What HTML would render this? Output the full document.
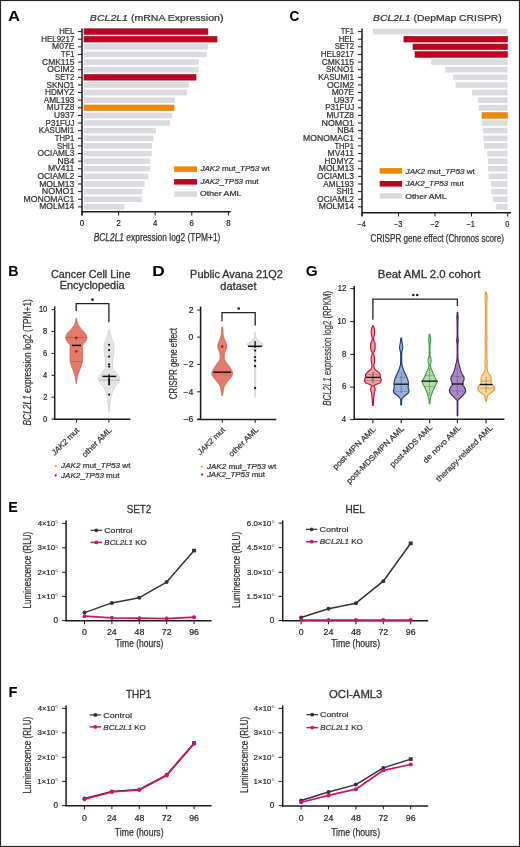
<!DOCTYPE html>
<html><head><meta charset="utf-8"><style>
html,body{margin:0;padding:0;background:#fff;width:520px;height:847px;overflow:hidden}
svg{display:block;will-change:transform}
text{font-family:"Liberation Sans", sans-serif}
</style></head><body>
<svg width="520" height="847" viewBox="0 0 520 847" font-family='"Liberation Sans", sans-serif'>
<rect x="0" y="0" width="520" height="847" fill="#fff"/>
<text x="7.98" y="20.9" font-size="15" font-weight="bold" fill="#000" textLength="12.07" lengthAdjust="spacingAndGlyphs">A</text>
<text x="89.88" y="20.9" font-size="9.3" fill="#333" stroke="#333" stroke-width="0.22" textLength="133.57" lengthAdjust="spacingAndGlyphs"><tspan font-style="italic">BCL2L1</tspan> (mRNA Expression)</text>
<rect x="84" y="28.8" width="123.9" height="5.6" fill="#C0001F" stroke="#9A0A26" stroke-width="0.6"/>
<line x1="78" y1="31.6" x2="82" y2="31.6" stroke="#1c1c1c" stroke-width="1"/>
<text x="59.13" y="34.2" font-size="8.2" fill="#333" stroke="#333" stroke-width="0.22" textLength="15.11" lengthAdjust="spacingAndGlyphs">HEL</text>
<rect x="84" y="36.42" width="133" height="5.6" fill="#C0001F" stroke="#9A0A26" stroke-width="0.6"/>
<line x1="78" y1="39.22" x2="82" y2="39.22" stroke="#1c1c1c" stroke-width="1"/>
<text x="41.26" y="41.82" font-size="8.2" fill="#333" stroke="#333" stroke-width="0.22" textLength="33.13" lengthAdjust="spacingAndGlyphs">HEL9217</text>
<rect x="84" y="44.04" width="123.9" height="5.6" fill="#DCDADE"/>
<line x1="78" y1="46.84" x2="82" y2="46.84" stroke="#1c1c1c" stroke-width="1"/>
<text x="52.07" y="49.44" font-size="8.2" fill="#333" stroke="#333" stroke-width="0.22" textLength="22.29" lengthAdjust="spacingAndGlyphs">M07E</text>
<rect x="84" y="51.66" width="122.7" height="5.6" fill="#DCDADE"/>
<line x1="78" y1="54.46" x2="82" y2="54.46" stroke="#1c1c1c" stroke-width="1"/>
<text x="61.1" y="57.06" font-size="8.2" fill="#333" stroke="#333" stroke-width="0.22" textLength="13.26" lengthAdjust="spacingAndGlyphs">TF1</text>
<rect x="84" y="59.28" width="114.75" height="5.6" fill="#DCDADE"/>
<line x1="78" y1="62.08" x2="82" y2="62.08" stroke="#1c1c1c" stroke-width="1"/>
<text x="42.08" y="64.68" font-size="8.2" fill="#333" stroke="#333" stroke-width="0.22" textLength="32.27" lengthAdjust="spacingAndGlyphs">CMK115</text>
<rect x="84" y="66.9" width="114.75" height="5.6" fill="#DCDADE"/>
<line x1="78" y1="69.7" x2="82" y2="69.7" stroke="#1c1c1c" stroke-width="1"/>
<text x="47.37" y="72.3" font-size="8.2" fill="#333" stroke="#333" stroke-width="0.22" textLength="27.08" lengthAdjust="spacingAndGlyphs">OCIM2</text>
<rect x="84" y="74.52" width="112" height="5.6" fill="#C0001F" stroke="#9A0A26" stroke-width="0.6"/>
<line x1="78" y1="77.32" x2="82" y2="77.32" stroke="#1c1c1c" stroke-width="1"/>
<text x="55.05" y="79.92" font-size="8.2" fill="#333" stroke="#333" stroke-width="0.22" textLength="19.34" lengthAdjust="spacingAndGlyphs">SET2</text>
<rect x="84" y="82.14" width="104.8" height="5.6" fill="#DCDADE"/>
<line x1="78" y1="84.94" x2="82" y2="84.94" stroke="#1c1c1c" stroke-width="1"/>
<text x="46.53" y="87.54" font-size="8.2" fill="#333" stroke="#333" stroke-width="0.22" textLength="27.84" lengthAdjust="spacingAndGlyphs">SKNO1</text>
<rect x="84" y="89.76" width="102.9" height="5.6" fill="#DCDADE"/>
<line x1="78" y1="92.56" x2="82" y2="92.56" stroke="#1c1c1c" stroke-width="1"/>
<text x="44.94" y="95.16" font-size="8.2" fill="#333" stroke="#333" stroke-width="0.22" textLength="29.31" lengthAdjust="spacingAndGlyphs">HDMYZ</text>
<rect x="84" y="97.38" width="90.9" height="5.6" fill="#DCDADE"/>
<line x1="78" y1="100.18" x2="82" y2="100.18" stroke="#1c1c1c" stroke-width="1"/>
<text x="43.75" y="102.78" font-size="8.2" fill="#333" stroke="#333" stroke-width="0.22" textLength="30.58" lengthAdjust="spacingAndGlyphs">AML193</text>
<rect x="84" y="105" width="90" height="5.6" fill="#EE8A00" stroke="#D2861A" stroke-width="0.6"/>
<line x1="78" y1="107.8" x2="82" y2="107.8" stroke="#1c1c1c" stroke-width="1"/>
<text x="46.84" y="110.4" font-size="8.2" fill="#333" stroke="#333" stroke-width="0.22" textLength="27.52" lengthAdjust="spacingAndGlyphs">MUTZ8</text>
<rect x="84" y="112.62" width="88.2" height="5.6" fill="#DCDADE"/>
<line x1="78" y1="115.42" x2="82" y2="115.42" stroke="#1c1c1c" stroke-width="1"/>
<text x="54.11" y="118.02" font-size="8.2" fill="#333" stroke="#333" stroke-width="0.22" textLength="20.32" lengthAdjust="spacingAndGlyphs">U937</text>
<rect x="84" y="120.24" width="86" height="5.6" fill="#DCDADE"/>
<line x1="78" y1="123.04" x2="82" y2="123.04" stroke="#1c1c1c" stroke-width="1"/>
<text x="45.61" y="125.64" font-size="8.2" fill="#333" stroke="#333" stroke-width="0.22" textLength="29.01" lengthAdjust="spacingAndGlyphs">P31FUJ</text>
<rect x="84" y="127.86" width="71.9" height="5.6" fill="#DCDADE"/>
<line x1="78" y1="130.66" x2="82" y2="130.66" stroke="#1c1c1c" stroke-width="1"/>
<text x="38.75" y="133.26" font-size="8.2" fill="#333" stroke="#333" stroke-width="0.22" textLength="35.62" lengthAdjust="spacingAndGlyphs">KASUMI1</text>
<rect x="84" y="135.48" width="69.5" height="5.6" fill="#DCDADE"/>
<line x1="78" y1="138.28" x2="82" y2="138.28" stroke="#1c1c1c" stroke-width="1"/>
<text x="54.85" y="140.88" font-size="8.2" fill="#333" stroke="#333" stroke-width="0.22" textLength="19.51" lengthAdjust="spacingAndGlyphs">THP1</text>
<rect x="84" y="143.1" width="68" height="5.6" fill="#DCDADE"/>
<line x1="78" y1="145.9" x2="82" y2="145.9" stroke="#1c1c1c" stroke-width="1"/>
<text x="56.9" y="148.5" font-size="8.2" fill="#333" stroke="#333" stroke-width="0.22" textLength="17.48" lengthAdjust="spacingAndGlyphs">SHI1</text>
<rect x="84" y="150.72" width="67.7" height="5.6" fill="#DCDADE"/>
<line x1="78" y1="153.52" x2="82" y2="153.52" stroke="#1c1c1c" stroke-width="1"/>
<text x="37.52" y="156.12" font-size="8.2" fill="#333" stroke="#333" stroke-width="0.22" textLength="36.81" lengthAdjust="spacingAndGlyphs">OCIAML3</text>
<rect x="84" y="158.34" width="66.1" height="5.6" fill="#DCDADE"/>
<line x1="78" y1="161.14" x2="82" y2="161.14" stroke="#1c1c1c" stroke-width="1"/>
<text x="57.62" y="163.74" font-size="8.2" fill="#333" stroke="#333" stroke-width="0.22" textLength="16.64" lengthAdjust="spacingAndGlyphs">NB4</text>
<rect x="84" y="165.96" width="65.9" height="5.6" fill="#DCDADE"/>
<line x1="78" y1="168.76" x2="82" y2="168.76" stroke="#1c1c1c" stroke-width="1"/>
<text x="47.92" y="171.36" font-size="8.2" fill="#333" stroke="#333" stroke-width="0.22" textLength="26.46" lengthAdjust="spacingAndGlyphs">MV411</text>
<rect x="84" y="173.58" width="64.3" height="5.6" fill="#DCDADE"/>
<line x1="78" y1="176.38" x2="82" y2="176.38" stroke="#1c1c1c" stroke-width="1"/>
<text x="37.52" y="178.98" font-size="8.2" fill="#333" stroke="#333" stroke-width="0.22" textLength="36.9" lengthAdjust="spacingAndGlyphs">OCIAML2</text>
<rect x="84" y="181.2" width="60.6" height="5.6" fill="#DCDADE"/>
<line x1="78" y1="184" x2="82" y2="184" stroke="#1c1c1c" stroke-width="1"/>
<text x="39.22" y="186.6" font-size="8.2" fill="#333" stroke="#333" stroke-width="0.22" textLength="35.15" lengthAdjust="spacingAndGlyphs">MOLM13</text>
<rect x="84" y="188.82" width="58.2" height="5.6" fill="#DCDADE"/>
<line x1="78" y1="191.62" x2="82" y2="191.62" stroke="#1c1c1c" stroke-width="1"/>
<text x="41.89" y="194.22" font-size="8.2" fill="#333" stroke="#333" stroke-width="0.22" textLength="32.53" lengthAdjust="spacingAndGlyphs">NOMO1</text>
<rect x="84" y="196.44" width="57.7" height="5.6" fill="#DCDADE"/>
<line x1="78" y1="199.24" x2="82" y2="199.24" stroke="#1c1c1c" stroke-width="1"/>
<text x="23.51" y="201.84" font-size="8.2" fill="#333" stroke="#333" stroke-width="0.22" textLength="50.87" lengthAdjust="spacingAndGlyphs">MONOMAC1</text>
<rect x="84" y="204.06" width="40.4" height="5.6" fill="#DCDADE"/>
<line x1="78" y1="206.86" x2="82" y2="206.86" stroke="#1c1c1c" stroke-width="1"/>
<text x="39.22" y="209.46" font-size="8.2" fill="#333" stroke="#333" stroke-width="0.22" textLength="35.06" lengthAdjust="spacingAndGlyphs">MOLM14</text>
<line x1="82" y1="28.5" x2="82" y2="215.5" stroke="#1c1c1c" stroke-width="1.5"/>
<line x1="81.4" y1="211.7" x2="230.8" y2="211.7" stroke="#1c1c1c" stroke-width="1.5"/>
<line x1="82" y1="211.7" x2="82" y2="215.5" stroke="#1c1c1c" stroke-width="1"/>
<text x="79.82" y="226.3" font-size="8.2" fill="#262626" stroke="#262626" stroke-width="0.22" textLength="4.33" lengthAdjust="spacingAndGlyphs">0</text>
<line x1="118.6" y1="211.7" x2="118.6" y2="215.5" stroke="#1c1c1c" stroke-width="1"/>
<text x="116.44" y="226.3" font-size="8.2" fill="#262626" stroke="#262626" stroke-width="0.22" textLength="4.33" lengthAdjust="spacingAndGlyphs">2</text>
<line x1="155.2" y1="211.7" x2="155.2" y2="215.5" stroke="#1c1c1c" stroke-width="1"/>
<text x="153.08" y="226.3" font-size="8.2" fill="#262626" stroke="#262626" stroke-width="0.22" textLength="4.33" lengthAdjust="spacingAndGlyphs">4</text>
<line x1="191.8" y1="211.7" x2="191.8" y2="215.5" stroke="#1c1c1c" stroke-width="1"/>
<text x="189.6" y="226.3" font-size="8.2" fill="#262626" stroke="#262626" stroke-width="0.22" textLength="4.33" lengthAdjust="spacingAndGlyphs">6</text>
<line x1="228.4" y1="211.7" x2="228.4" y2="215.5" stroke="#1c1c1c" stroke-width="1"/>
<text x="226.22" y="226.3" font-size="8.2" fill="#262626" stroke="#262626" stroke-width="0.22" textLength="4.33" lengthAdjust="spacingAndGlyphs">8</text>
<text x="93.65" y="241.1" font-size="10.2" fill="#333" stroke="#333" stroke-width="0.25" textLength="126.77" lengthAdjust="spacingAndGlyphs"><tspan font-style="italic">BCL2L1</tspan> expression log2 (TPM+1)</text>
<rect x="174.1" y="166.4" width="22.9" height="5.5" fill="#EE8A00"/>
<text x="200.4" y="171.3" font-size="7.4" fill="#333" stroke="#333" stroke-width="0.22" textLength="69.28" lengthAdjust="spacingAndGlyphs"><tspan font-style="italic">JAK2</tspan> mut_<tspan font-style="italic">TP53</tspan> wt</text>
<rect x="174.1" y="179.1" width="22.9" height="5.5" fill="#C0001F"/>
<text x="200.4" y="183.8" font-size="7.4" fill="#333" stroke="#333" stroke-width="0.22" textLength="58.15" lengthAdjust="spacingAndGlyphs"><tspan font-style="italic">JAK2</tspan>_<tspan font-style="italic">TP53</tspan> mut</text>
<rect x="174.1" y="191.4" width="22.9" height="5.5" fill="#DCDADE"/>
<text x="200.01" y="196.3" font-size="7.4" fill="#333" stroke="#333" stroke-width="0.22" textLength="41.45" lengthAdjust="spacingAndGlyphs">Other AML</text>
<text x="289.56" y="20.7" font-size="15" font-weight="bold" fill="#000" textLength="9.81" lengthAdjust="spacingAndGlyphs">C</text>
<text x="373.09" y="21.2" font-size="9.3" fill="#333" stroke="#333" stroke-width="0.22" textLength="128.68" lengthAdjust="spacingAndGlyphs"><tspan font-style="italic">BCL2L1</tspan> (DepMap CRISPR)</text>
<rect x="372.8" y="28.8" width="134.7" height="5.6" fill="#DCDADE"/>
<line x1="358" y1="31.6" x2="362" y2="31.6" stroke="#1c1c1c" stroke-width="1"/>
<text x="340.7" y="34.2" font-size="8.2" fill="#333" stroke="#333" stroke-width="0.22" textLength="13.26" lengthAdjust="spacingAndGlyphs">TF1</text>
<rect x="403.9" y="36.42" width="103.6" height="5.6" fill="#C0001F" stroke="#9A0A26" stroke-width="0.6"/>
<line x1="358" y1="39.22" x2="362" y2="39.22" stroke="#1c1c1c" stroke-width="1"/>
<text x="338.73" y="41.82" font-size="8.2" fill="#333" stroke="#333" stroke-width="0.22" textLength="15.11" lengthAdjust="spacingAndGlyphs">HEL</text>
<rect x="413" y="44.04" width="94.5" height="5.6" fill="#C0001F" stroke="#9A0A26" stroke-width="0.6"/>
<line x1="358" y1="46.84" x2="362" y2="46.84" stroke="#1c1c1c" stroke-width="1"/>
<text x="334.65" y="49.44" font-size="8.2" fill="#333" stroke="#333" stroke-width="0.22" textLength="19.34" lengthAdjust="spacingAndGlyphs">SET2</text>
<rect x="415" y="51.66" width="92.5" height="5.6" fill="#C0001F" stroke="#9A0A26" stroke-width="0.6"/>
<line x1="358" y1="54.46" x2="362" y2="54.46" stroke="#1c1c1c" stroke-width="1"/>
<text x="320.86" y="57.06" font-size="8.2" fill="#333" stroke="#333" stroke-width="0.22" textLength="33.13" lengthAdjust="spacingAndGlyphs">HEL9217</text>
<rect x="431.2" y="59.28" width="76.3" height="5.6" fill="#DCDADE"/>
<line x1="358" y1="62.08" x2="362" y2="62.08" stroke="#1c1c1c" stroke-width="1"/>
<text x="321.68" y="64.68" font-size="8.2" fill="#333" stroke="#333" stroke-width="0.22" textLength="32.27" lengthAdjust="spacingAndGlyphs">CMK115</text>
<rect x="445.5" y="66.9" width="62" height="5.6" fill="#DCDADE"/>
<line x1="358" y1="69.7" x2="362" y2="69.7" stroke="#1c1c1c" stroke-width="1"/>
<text x="326.13" y="72.3" font-size="8.2" fill="#333" stroke="#333" stroke-width="0.22" textLength="27.84" lengthAdjust="spacingAndGlyphs">SKNO1</text>
<rect x="453" y="74.52" width="54.5" height="5.6" fill="#DCDADE"/>
<line x1="358" y1="77.32" x2="362" y2="77.32" stroke="#1c1c1c" stroke-width="1"/>
<text x="318.35" y="79.92" font-size="8.2" fill="#333" stroke="#333" stroke-width="0.22" textLength="35.62" lengthAdjust="spacingAndGlyphs">KASUMI1</text>
<rect x="455.5" y="82.14" width="52" height="5.6" fill="#DCDADE"/>
<line x1="358" y1="84.94" x2="362" y2="84.94" stroke="#1c1c1c" stroke-width="1"/>
<text x="326.97" y="87.54" font-size="8.2" fill="#333" stroke="#333" stroke-width="0.22" textLength="27.08" lengthAdjust="spacingAndGlyphs">OCIM2</text>
<rect x="472" y="89.76" width="35.5" height="5.6" fill="#DCDADE"/>
<line x1="358" y1="92.56" x2="362" y2="92.56" stroke="#1c1c1c" stroke-width="1"/>
<text x="331.67" y="95.16" font-size="8.2" fill="#333" stroke="#333" stroke-width="0.22" textLength="22.29" lengthAdjust="spacingAndGlyphs">M07E</text>
<rect x="477.7" y="97.38" width="29.8" height="5.6" fill="#DCDADE"/>
<line x1="358" y1="100.18" x2="362" y2="100.18" stroke="#1c1c1c" stroke-width="1"/>
<text x="333.71" y="102.78" font-size="8.2" fill="#333" stroke="#333" stroke-width="0.22" textLength="20.32" lengthAdjust="spacingAndGlyphs">U937</text>
<rect x="478.8" y="105" width="28.7" height="5.6" fill="#DCDADE"/>
<line x1="358" y1="107.8" x2="362" y2="107.8" stroke="#1c1c1c" stroke-width="1"/>
<text x="325.21" y="110.4" font-size="8.2" fill="#333" stroke="#333" stroke-width="0.22" textLength="29.01" lengthAdjust="spacingAndGlyphs">P31FUJ</text>
<rect x="482" y="112.62" width="25.5" height="5.6" fill="#EE8A00" stroke="#D2861A" stroke-width="0.6"/>
<line x1="358" y1="115.42" x2="362" y2="115.42" stroke="#1c1c1c" stroke-width="1"/>
<text x="326.44" y="118.02" font-size="8.2" fill="#333" stroke="#333" stroke-width="0.22" textLength="27.52" lengthAdjust="spacingAndGlyphs">MUTZ8</text>
<rect x="482.3" y="120.24" width="25.2" height="5.6" fill="#DCDADE"/>
<line x1="358" y1="123.04" x2="362" y2="123.04" stroke="#1c1c1c" stroke-width="1"/>
<text x="321.49" y="125.64" font-size="8.2" fill="#333" stroke="#333" stroke-width="0.22" textLength="32.53" lengthAdjust="spacingAndGlyphs">NOMO1</text>
<rect x="483.1" y="127.86" width="24.4" height="5.6" fill="#DCDADE"/>
<line x1="358" y1="130.66" x2="362" y2="130.66" stroke="#1c1c1c" stroke-width="1"/>
<text x="337.22" y="133.26" font-size="8.2" fill="#333" stroke="#333" stroke-width="0.22" textLength="16.64" lengthAdjust="spacingAndGlyphs">NB4</text>
<rect x="483.4" y="135.48" width="24.1" height="5.6" fill="#DCDADE"/>
<line x1="358" y1="138.28" x2="362" y2="138.28" stroke="#1c1c1c" stroke-width="1"/>
<text x="303.11" y="140.88" font-size="8.2" fill="#333" stroke="#333" stroke-width="0.22" textLength="50.87" lengthAdjust="spacingAndGlyphs">MONOMAC1</text>
<rect x="484" y="143.1" width="23.5" height="5.6" fill="#DCDADE"/>
<line x1="358" y1="145.9" x2="362" y2="145.9" stroke="#1c1c1c" stroke-width="1"/>
<text x="334.45" y="148.5" font-size="8.2" fill="#333" stroke="#333" stroke-width="0.22" textLength="19.51" lengthAdjust="spacingAndGlyphs">THP1</text>
<rect x="487.4" y="150.72" width="20.1" height="5.6" fill="#DCDADE"/>
<line x1="358" y1="153.52" x2="362" y2="153.52" stroke="#1c1c1c" stroke-width="1"/>
<text x="327.52" y="156.12" font-size="8.2" fill="#333" stroke="#333" stroke-width="0.22" textLength="26.46" lengthAdjust="spacingAndGlyphs">MV411</text>
<rect x="488" y="158.34" width="19.5" height="5.6" fill="#DCDADE"/>
<line x1="358" y1="161.14" x2="362" y2="161.14" stroke="#1c1c1c" stroke-width="1"/>
<text x="324.54" y="163.74" font-size="8.2" fill="#333" stroke="#333" stroke-width="0.22" textLength="29.31" lengthAdjust="spacingAndGlyphs">HDMYZ</text>
<rect x="488" y="165.96" width="19.5" height="5.6" fill="#DCDADE"/>
<line x1="358" y1="168.76" x2="362" y2="168.76" stroke="#1c1c1c" stroke-width="1"/>
<text x="318.82" y="171.36" font-size="8.2" fill="#333" stroke="#333" stroke-width="0.22" textLength="35.15" lengthAdjust="spacingAndGlyphs">MOLM13</text>
<rect x="488.5" y="173.58" width="19" height="5.6" fill="#DCDADE"/>
<line x1="358" y1="176.38" x2="362" y2="176.38" stroke="#1c1c1c" stroke-width="1"/>
<text x="317.12" y="178.98" font-size="8.2" fill="#333" stroke="#333" stroke-width="0.22" textLength="36.81" lengthAdjust="spacingAndGlyphs">OCIAML3</text>
<rect x="490.8" y="181.2" width="16.7" height="5.6" fill="#DCDADE"/>
<line x1="358" y1="184" x2="362" y2="184" stroke="#1c1c1c" stroke-width="1"/>
<text x="323.35" y="186.6" font-size="8.2" fill="#333" stroke="#333" stroke-width="0.22" textLength="30.58" lengthAdjust="spacingAndGlyphs">AML193</text>
<rect x="491.3" y="188.82" width="16.2" height="5.6" fill="#DCDADE"/>
<line x1="358" y1="191.62" x2="362" y2="191.62" stroke="#1c1c1c" stroke-width="1"/>
<text x="336.5" y="194.22" font-size="8.2" fill="#333" stroke="#333" stroke-width="0.22" textLength="17.48" lengthAdjust="spacingAndGlyphs">SHI1</text>
<rect x="492.7" y="196.44" width="14.8" height="5.6" fill="#DCDADE"/>
<line x1="358" y1="199.24" x2="362" y2="199.24" stroke="#1c1c1c" stroke-width="1"/>
<text x="317.12" y="201.84" font-size="8.2" fill="#333" stroke="#333" stroke-width="0.22" textLength="36.9" lengthAdjust="spacingAndGlyphs">OCIAML2</text>
<rect x="496.2" y="204.06" width="11.3" height="5.6" fill="#DCDADE"/>
<line x1="358" y1="206.86" x2="362" y2="206.86" stroke="#1c1c1c" stroke-width="1"/>
<text x="318.82" y="209.46" font-size="8.2" fill="#333" stroke="#333" stroke-width="0.22" textLength="35.06" lengthAdjust="spacingAndGlyphs">MOLM14</text>
<line x1="362" y1="28.4" x2="362" y2="216.2" stroke="#1c1c1c" stroke-width="1.5"/>
<line x1="361.4" y1="212.8" x2="511" y2="212.8" stroke="#1c1c1c" stroke-width="1.5"/>
<line x1="362" y1="212.8" x2="362" y2="216.4" stroke="#1c1c1c" stroke-width="1"/>
<text x="357.52" y="227" font-size="8.2" fill="#262626" stroke="#262626" stroke-width="0.22" textLength="8.41" lengthAdjust="spacingAndGlyphs">−4</text>
<line x1="398.5" y1="212.8" x2="398.5" y2="216.4" stroke="#1c1c1c" stroke-width="1"/>
<text x="393.96" y="227" font-size="8.2" fill="#262626" stroke="#262626" stroke-width="0.22" textLength="8.41" lengthAdjust="spacingAndGlyphs">−3</text>
<line x1="435" y1="212.8" x2="435" y2="216.4" stroke="#1c1c1c" stroke-width="1"/>
<text x="430.39" y="227" font-size="8.2" fill="#262626" stroke="#262626" stroke-width="0.22" textLength="8.41" lengthAdjust="spacingAndGlyphs">−2</text>
<line x1="471.5" y1="212.8" x2="471.5" y2="216.4" stroke="#1c1c1c" stroke-width="1"/>
<text x="466.57" y="227" font-size="8.2" fill="#262626" stroke="#262626" stroke-width="0.22" textLength="8.41" lengthAdjust="spacingAndGlyphs">−1</text>
<line x1="507.7" y1="212.8" x2="507.7" y2="216.4" stroke="#1c1c1c" stroke-width="1"/>
<text x="505.33" y="227" font-size="8.2" fill="#262626" stroke="#262626" stroke-width="0.22" textLength="4.1" lengthAdjust="spacingAndGlyphs">0</text>
<text x="370.59" y="242.3" font-size="10.2" fill="#333" stroke="#333" stroke-width="0.25" textLength="133.42" lengthAdjust="spacingAndGlyphs">CRISPR gene effect (Chronos score)</text>
<rect x="379.6" y="168.1" width="22.5" height="5.6" fill="#EE8A00"/>
<text x="405.6" y="173.7" font-size="7.4" fill="#333" stroke="#333" stroke-width="0.22" textLength="69.28" lengthAdjust="spacingAndGlyphs"><tspan font-style="italic">JAK2</tspan> mut_<tspan font-style="italic">TP53</tspan> wt</text>
<rect x="379.6" y="181" width="22.5" height="5.6" fill="#C0001F"/>
<text x="405.6" y="186.1" font-size="7.4" fill="#333" stroke="#333" stroke-width="0.22" textLength="58.15" lengthAdjust="spacingAndGlyphs"><tspan font-style="italic">JAK2</tspan>_<tspan font-style="italic">TP53</tspan> mut</text>
<rect x="379.6" y="193.1" width="22.5" height="5.6" fill="#DCDADE"/>
<text x="405.21" y="198.5" font-size="7.4" fill="#333" stroke="#333" stroke-width="0.22" textLength="41.45" lengthAdjust="spacingAndGlyphs">Other AML</text>
<text x="8.27" y="276" font-size="15" font-weight="bold" fill="#000" textLength="10.3" lengthAdjust="spacingAndGlyphs">B</text>
<text x="51.06" y="278" font-size="10.6" fill="#333" stroke="#333" stroke-width="0.3" textLength="79.55" lengthAdjust="spacingAndGlyphs">Cancer Cell Line</text>
<text x="59.73" y="289.2" font-size="10.6" fill="#333" stroke="#333" stroke-width="0.3" textLength="64.91" lengthAdjust="spacingAndGlyphs">Encyclopedia</text>
<line x1="54.7" y1="306.5" x2="54.7" y2="419.6" stroke="#1c1c1c" stroke-width="1.5"/>
<line x1="51.5" y1="419.1" x2="54.7" y2="419.1" stroke="#1c1c1c" stroke-width="1"/>
<text x="43.08" y="421.9" font-size="8.2" fill="#262626" stroke="#262626" stroke-width="0.22" textLength="4.2" lengthAdjust="spacingAndGlyphs">0</text>
<line x1="51.5" y1="397.2" x2="54.7" y2="397.2" stroke="#1c1c1c" stroke-width="1"/>
<text x="43.19" y="400" font-size="8.2" fill="#262626" stroke="#262626" stroke-width="0.22" textLength="4.2" lengthAdjust="spacingAndGlyphs">2</text>
<line x1="51.5" y1="375.3" x2="54.7" y2="375.3" stroke="#1c1c1c" stroke-width="1"/>
<text x="43.04" y="378.1" font-size="8.2" fill="#262626" stroke="#262626" stroke-width="0.22" textLength="4.2" lengthAdjust="spacingAndGlyphs">4</text>
<line x1="51.5" y1="353.4" x2="54.7" y2="353.4" stroke="#1c1c1c" stroke-width="1"/>
<text x="43.11" y="356.2" font-size="8.2" fill="#262626" stroke="#262626" stroke-width="0.22" textLength="4.2" lengthAdjust="spacingAndGlyphs">6</text>
<line x1="51.5" y1="331.5" x2="54.7" y2="331.5" stroke="#1c1c1c" stroke-width="1"/>
<text x="43.11" y="334.3" font-size="8.2" fill="#262626" stroke="#262626" stroke-width="0.22" textLength="4.2" lengthAdjust="spacingAndGlyphs">8</text>
<line x1="51.5" y1="309.6" x2="54.7" y2="309.6" stroke="#1c1c1c" stroke-width="1"/>
<text x="38.89" y="312.4" font-size="8.2" fill="#262626" stroke="#262626" stroke-width="0.22" textLength="8.39" lengthAdjust="spacingAndGlyphs">10</text>
<text x="30.45" y="425.2" font-size="10.2" fill="#333" stroke="#333" stroke-width="0.2" textLength="126.36" lengthAdjust="spacingAndGlyphs" transform="rotate(-90 30.7 425.2)"><tspan font-style="italic">BCL2L1</tspan> expression log2 (TPM+1)</text>
<line x1="54.1" y1="419.3" x2="130.4" y2="419.3" stroke="#1c1c1c" stroke-width="1.5"/>
<line x1="76.5" y1="419.3" x2="76.5" y2="422.6" stroke="#1c1c1c" stroke-width="1"/>
<line x1="108.9" y1="419.3" x2="108.9" y2="422.6" stroke="#1c1c1c" stroke-width="1"/>
<path d="M76.3,318 C76.43,318.5 76.83,319.97 77.1,321 C77.37,322.03 77.22,322.88 77.9,324.2 C78.58,325.52 79.93,327.33 81.2,328.9 C82.47,330.47 84.55,332.03 85.5,333.6 C86.45,335.17 86.98,336.88 86.9,338.3 C86.82,339.72 85.72,340.92 85,342.1 C84.28,343.28 83,344.13 82.6,345.4 C82.2,346.67 82.6,347.73 82.6,349.7 C82.6,351.67 82.67,355 82.6,357.2 C82.53,359.4 82.58,361.02 82.2,362.9 C81.82,364.78 80.98,366.62 80.3,368.5 C79.62,370.38 78.6,372.62 78.1,374.2 C77.6,375.78 77.6,376.42 77.3,378 C77,379.58 76.47,382.75 76.3,383.7 L76.3,383.7 C76.13,382.75 75.6,379.58 75.3,378 C75,376.42 75,375.78 74.5,374.2 C74,372.62 72.98,370.38 72.3,368.5 C71.62,366.62 70.78,364.78 70.4,362.9 C70.02,361.02 70.07,359.4 70,357.2 C69.93,355 70,351.67 70,349.7 C70,347.73 70.4,346.67 70,345.4 C69.6,344.13 68.32,343.28 67.6,342.1 C66.88,340.92 65.78,339.72 65.7,338.3 C65.62,336.88 66.15,335.17 67.1,333.6 C68.05,332.03 70.13,330.47 71.4,328.9 C72.67,327.33 74.02,325.52 74.7,324.2 C75.38,322.88 75.23,322.03 75.5,321 C75.77,319.97 76.17,318.5 76.3,318 Z" fill="#E37A6B" stroke="#D35A50" stroke-width="0.7" stroke-linejoin="round"/>
<line x1="66.3" y1="337.5" x2="86.3" y2="337.5" stroke="#B8413A" stroke-width="0.6"/>
<line x1="70.7" y1="361.5" x2="82" y2="361.5" stroke="#B8503A" stroke-width="0.6"/>
<line x1="71.8" y1="345.4" x2="81" y2="345.4" stroke="#111" stroke-width="1.5"/>
<circle cx="76.3" cy="337.9" r="1.3" fill="#B0102A"/>
<circle cx="76.3" cy="351.5" r="1.2" fill="#B0102A"/>
<path d="M109.1,329.4 C109.27,330 109.7,331.62 110.1,333 C110.5,334.38 110.88,335.93 111.5,337.7 C112.12,339.47 113.37,341.63 113.8,343.6 C114.23,345.57 114.2,347.13 114.1,349.5 C114,351.87 113.45,354.85 113.2,357.8 C112.95,360.75 112.2,364.83 112.6,367.2 C113,369.57 114.42,370.22 115.6,372 C116.78,373.78 119.22,376.13 119.7,377.9 C120.18,379.67 119.48,380.83 118.5,382.6 C117.52,384.37 114.97,386.33 113.8,388.5 C112.63,390.67 112.08,393.25 111.5,395.6 C110.92,397.95 110.7,399.87 110.3,402.6 C109.9,405.33 109.3,410.43 109.1,412 L109.1,412 C108.9,410.43 108.3,405.33 107.9,402.6 C107.5,399.87 107.28,397.95 106.7,395.6 C106.12,393.25 105.57,390.67 104.4,388.5 C103.23,386.33 100.68,384.37 99.7,382.6 C98.72,380.83 98.02,379.67 98.5,377.9 C98.98,376.13 101.42,373.78 102.6,372 C103.78,370.22 105.2,369.57 105.6,367.2 C106,364.83 105.25,360.75 105,357.8 C104.75,354.85 104.2,351.87 104.1,349.5 C104,347.13 103.97,345.57 104.4,343.6 C104.83,341.63 106.08,339.47 106.7,337.7 C107.32,335.93 107.7,334.38 108.1,333 C108.5,331.62 108.93,330 109.1,329.4 Z" fill="#E4E4E7" stroke="#C8C8CC" stroke-width="0.6" stroke-linejoin="round"/>
<line x1="99" y1="380.2" x2="119.5" y2="380.2" stroke="#999" stroke-width="0.6"/>
<line x1="102.4" y1="376.4" x2="116.2" y2="376.4" stroke="#111" stroke-width="1.5"/>
<line x1="109.1" y1="374.2" x2="109.1" y2="385" stroke="#111" stroke-width="1.3"/>
<circle cx="109.1" cy="344.8" r="1.1" fill="#111"/>
<circle cx="109.1" cy="350.1" r="1.1" fill="#111"/>
<circle cx="109.1" cy="356.6" r="1.1" fill="#111"/>
<circle cx="109.1" cy="364.3" r="1.1" fill="#111"/>
<circle cx="109.1" cy="366.6" r="1.1" fill="#111"/>
<circle cx="109.1" cy="379.6" r="1.1" fill="#111"/>
<circle cx="109.1" cy="382" r="1.1" fill="#111"/>
<circle cx="109.1" cy="384.3" r="1.1" fill="#111"/>
<circle cx="109.1" cy="394.6" r="1.1" fill="#111"/>
<path d="M76.2,311 V303.7 H108.9 V322.3" fill="none" stroke="#222" stroke-width="1.3"/>
<circle cx="92.5" cy="299.7" r="1.35" fill="#222"/>
<text x="44.3" y="431" font-size="7.9" fill="#333" stroke="#333" stroke-width="0.22" textLength="35.38" lengthAdjust="spacingAndGlyphs" transform="rotate(-45 79.6 431)"><tspan font-style="italic">JAK2</tspan> mut</text>
<text x="73.96" y="431" font-size="7.9" fill="#333" stroke="#333" stroke-width="0.22" textLength="38.21" lengthAdjust="spacingAndGlyphs" transform="rotate(-45 111.9 431)">other AML</text>
<circle cx="55.7" cy="466.1" r="1.1" fill="#F0A040"/>
<text x="61.1" y="468.1" font-size="7.4" fill="#333" stroke="#333" stroke-width="0.22" textLength="69.38" lengthAdjust="spacingAndGlyphs"><tspan font-style="italic">JAK2</tspan> mut_<tspan font-style="italic">TP53</tspan> wt</text>
<circle cx="55.7" cy="475.4" r="1.1" fill="#8B1A4A"/>
<text x="61.1" y="477.5" font-size="7.4" fill="#333" stroke="#333" stroke-width="0.22" textLength="58.35" lengthAdjust="spacingAndGlyphs"><tspan font-style="italic">JAK2</tspan>_<tspan font-style="italic">TP53</tspan> mut</text>
<text x="152.28" y="276.2" font-size="15" font-weight="bold" fill="#000" textLength="12.45" lengthAdjust="spacingAndGlyphs">D</text>
<text x="190.13" y="278.1" font-size="10.6" fill="#333" stroke="#333" stroke-width="0.3" textLength="92.65" lengthAdjust="spacingAndGlyphs">Public Avana 21Q2</text>
<text x="220.36" y="290.1" font-size="10.6" fill="#333" stroke="#333" stroke-width="0.3" textLength="36.2" lengthAdjust="spacingAndGlyphs">dataset</text>
<line x1="200.6" y1="306.6" x2="200.6" y2="419.8" stroke="#1c1c1c" stroke-width="1.5"/>
<line x1="197.2" y1="310" x2="200.6" y2="310" stroke="#1c1c1c" stroke-width="1"/>
<text x="188.65" y="312.8" font-size="8.2" fill="#262626" stroke="#262626" stroke-width="0.22" textLength="4.79" lengthAdjust="spacingAndGlyphs">2</text>
<line x1="197.2" y1="337.1" x2="200.6" y2="337.1" stroke="#1c1c1c" stroke-width="1"/>
<text x="188.52" y="339.9" font-size="8.2" fill="#262626" stroke="#262626" stroke-width="0.22" textLength="4.79" lengthAdjust="spacingAndGlyphs">0</text>
<line x1="197.2" y1="364.4" x2="200.6" y2="364.4" stroke="#1c1c1c" stroke-width="1"/>
<text x="183.62" y="367.2" font-size="8.2" fill="#262626" stroke="#262626" stroke-width="0.22" textLength="9.82" lengthAdjust="spacingAndGlyphs">−2</text>
<line x1="197.2" y1="391.8" x2="200.6" y2="391.8" stroke="#1c1c1c" stroke-width="1"/>
<text x="183.44" y="394.6" font-size="8.2" fill="#262626" stroke="#262626" stroke-width="0.22" textLength="9.82" lengthAdjust="spacingAndGlyphs">−4</text>
<line x1="197.2" y1="419.1" x2="200.6" y2="419.1" stroke="#1c1c1c" stroke-width="1"/>
<text x="183.53" y="421.9" font-size="8.2" fill="#262626" stroke="#262626" stroke-width="0.22" textLength="9.82" lengthAdjust="spacingAndGlyphs">−6</text>
<text x="177" y="398.9" font-size="10.2" fill="#333" stroke="#333" stroke-width="0.2" textLength="71.35" lengthAdjust="spacingAndGlyphs" transform="rotate(-90 177.4 398.9)">CRISPR gene effect</text>
<line x1="197.4" y1="419.4" x2="276.3" y2="419.4" stroke="#1c1c1c" stroke-width="1.5"/>
<line x1="222.3" y1="419.4" x2="222.3" y2="422.8" stroke="#1c1c1c" stroke-width="1"/>
<line x1="255.2" y1="419.4" x2="255.2" y2="422.8" stroke="#1c1c1c" stroke-width="1"/>
<path d="M222.6,327.1 C222.67,327.58 222.92,328.82 223,330 C223.08,331.18 222.87,332.72 223.1,334.2 C223.33,335.68 223.87,337.33 224.4,338.9 C224.93,340.47 225.92,342.18 226.3,343.6 C226.68,345.02 226.87,346.13 226.7,347.4 C226.53,348.67 225.68,350.1 225.3,351.2 C224.92,352.3 224.57,353.03 224.4,354 C224.23,354.97 224.27,356.05 224.3,357 C224.33,357.95 224.12,358.63 224.6,359.7 C225.08,360.77 226.22,361.98 227.2,363.4 C228.18,364.82 229.6,366.62 230.5,368.2 C231.4,369.78 232.43,371.48 232.6,372.9 C232.77,374.32 232.32,375.28 231.5,376.7 C230.68,378.12 228.88,379.83 227.7,381.4 C226.52,382.97 225.12,384.53 224.4,386.1 C223.68,387.67 223.72,389.23 223.4,390.8 C223.08,392.37 222.65,394.72 222.5,395.5 L221.9,395.5 C221.75,394.72 221.32,392.37 221,390.8 C220.68,389.23 220.72,387.67 220,386.1 C219.28,384.53 217.88,382.97 216.7,381.4 C215.52,379.83 213.72,378.12 212.9,376.7 C212.08,375.28 211.63,374.32 211.8,372.9 C211.97,371.48 213,369.78 213.9,368.2 C214.8,366.62 216.22,364.82 217.2,363.4 C218.18,361.98 219.32,360.77 219.8,359.7 C220.28,358.63 220.07,357.95 220.1,357 C220.13,356.05 220.17,354.97 220,354 C219.83,353.03 219.48,352.3 219.1,351.2 C218.72,350.1 217.87,348.67 217.7,347.4 C217.53,346.13 217.72,345.02 218.1,343.6 C218.48,342.18 219.47,340.47 220,338.9 C220.53,337.33 221.07,335.68 221.3,334.2 C221.53,332.72 221.32,331.18 221.4,330 C221.48,328.82 221.73,327.58 221.8,327.1 Z" fill="#E37A6B" stroke="#D35A50" stroke-width="0.7" stroke-linejoin="round"/>
<line x1="212.5" y1="374.8" x2="232" y2="374.8" stroke="#C0704A" stroke-width="0.6"/>
<line x1="213.3" y1="372.2" x2="231" y2="372.2" stroke="#111" stroke-width="1.5"/>
<circle cx="222.2" cy="372.2" r="1.3" fill="#B0102A"/>
<circle cx="222.2" cy="346.6" r="1.3" fill="#B0102A"/>
<path d="M255.4,332 C255.45,332.5 255.55,334.08 255.7,335 C255.85,335.92 255.9,336.67 256.3,337.5 C256.7,338.33 257.3,339.17 258.1,340 C258.9,340.83 260.18,341.73 261.1,342.5 C262.02,343.27 263.6,343.93 263.6,344.6 C263.6,345.27 261.93,345.93 261.1,346.5 C260.27,347.07 259.37,347.42 258.6,348 C257.83,348.58 256.95,349.33 256.5,350 C256.05,350.67 256.02,350.33 255.9,352 C255.78,353.67 255.82,355.33 255.8,360 C255.78,364.67 255.87,373.78 255.8,380 C255.73,386.22 255.47,394.42 255.4,397.3 L254.8,397.3 C254.73,394.42 254.47,386.22 254.4,380 C254.33,373.78 254.42,364.67 254.4,360 C254.38,355.33 254.42,353.67 254.3,352 C254.18,350.33 254.15,350.67 253.7,350 C253.25,349.33 252.37,348.58 251.6,348 C250.83,347.42 249.93,347.07 249.1,346.5 C248.27,345.93 246.6,345.27 246.6,344.6 C246.6,343.93 248.18,343.27 249.1,342.5 C250.02,341.73 251.3,340.83 252.1,340 C252.9,339.17 253.5,338.33 253.9,337.5 C254.3,336.67 254.35,335.92 254.5,335 C254.65,334.08 254.75,332.5 254.8,332 Z" fill="#E2E2E4" stroke="#C8C8CC" stroke-width="0.6" stroke-linejoin="round"/>
<line x1="248" y1="346.3" x2="262.1" y2="346.3" stroke="#111" stroke-width="1.5"/>
<line x1="255.1" y1="341" x2="255.1" y2="348.1" stroke="#111" stroke-width="1.3"/>
<circle cx="255.1" cy="350.6" r="1.1" fill="#111"/>
<circle cx="255.1" cy="357.1" r="1.1" fill="#111"/>
<circle cx="255.1" cy="360.7" r="1.1" fill="#111"/>
<circle cx="255.1" cy="366.2" r="1.1" fill="#111"/>
<circle cx="255.1" cy="388.1" r="1.1" fill="#111"/>
<path d="M222,321.2 V312.7 H255.2 V325.5" fill="none" stroke="#222" stroke-width="1.3"/>
<circle cx="238.7" cy="308.5" r="1.35" fill="#222"/>
<text x="190.2" y="430.4" font-size="7.9" fill="#333" stroke="#333" stroke-width="0.22" textLength="35.38" lengthAdjust="spacingAndGlyphs" transform="rotate(-45 225.5 430.4)"><tspan font-style="italic">JAK2</tspan> mut</text>
<text x="220.76" y="430.4" font-size="7.9" fill="#333" stroke="#333" stroke-width="0.22" textLength="38.21" lengthAdjust="spacingAndGlyphs" transform="rotate(-45 258.7 430.4)">other AML</text>
<circle cx="202.1" cy="466.7" r="1.1" fill="#F0A040"/>
<text x="206.9" y="468.7" font-size="7.4" fill="#333" stroke="#333" stroke-width="0.22" textLength="69.28" lengthAdjust="spacingAndGlyphs"><tspan font-style="italic">JAK2</tspan> mut_<tspan font-style="italic">TP53</tspan> wt</text>
<circle cx="202.1" cy="474.5" r="1.1" fill="#8B1A4A"/>
<text x="206.9" y="477.1" font-size="7.4" fill="#333" stroke="#333" stroke-width="0.22" textLength="58.05" lengthAdjust="spacingAndGlyphs"><tspan font-style="italic">JAK2</tspan>_<tspan font-style="italic">TP53</tspan> mut</text>
<text x="305.78" y="276.3" font-size="15" font-weight="bold" fill="#000" textLength="11.98" lengthAdjust="spacingAndGlyphs">G</text>
<text x="377.89" y="278.2" font-size="10.6" fill="#333" stroke="#333" stroke-width="0.3" textLength="102.51" lengthAdjust="spacingAndGlyphs">Beat AML 2.0 cohort</text>
<line x1="354.2" y1="285.9" x2="354.2" y2="420" stroke="#1c1c1c" stroke-width="1.5"/>
<line x1="350.2" y1="288.7" x2="354.2" y2="288.7" stroke="#1c1c1c" stroke-width="1"/>
<text x="337.64" y="291" font-size="8.2" fill="#262626" stroke="#262626" stroke-width="0.22" textLength="8.67" lengthAdjust="spacingAndGlyphs">12</text>
<line x1="350.2" y1="321.6" x2="354.2" y2="321.6" stroke="#1c1c1c" stroke-width="1"/>
<text x="337.53" y="323.9" font-size="8.2" fill="#262626" stroke="#262626" stroke-width="0.22" textLength="8.67" lengthAdjust="spacingAndGlyphs">10</text>
<line x1="350.2" y1="354.4" x2="354.2" y2="354.4" stroke="#1c1c1c" stroke-width="1"/>
<text x="341.89" y="356.7" font-size="8.2" fill="#262626" stroke="#262626" stroke-width="0.22" textLength="4.33" lengthAdjust="spacingAndGlyphs">8</text>
<line x1="350.2" y1="387.1" x2="354.2" y2="387.1" stroke="#1c1c1c" stroke-width="1"/>
<text x="341.89" y="389.4" font-size="8.2" fill="#262626" stroke="#262626" stroke-width="0.22" textLength="4.33" lengthAdjust="spacingAndGlyphs">6</text>
<line x1="350.2" y1="419.7" x2="354.2" y2="419.7" stroke="#1c1c1c" stroke-width="1"/>
<text x="341.81" y="422" font-size="8.2" fill="#262626" stroke="#262626" stroke-width="0.22" textLength="4.33" lengthAdjust="spacingAndGlyphs">4</text>
<text x="330.57" y="405.4" font-size="10.2" fill="#333" stroke="#333" stroke-width="0.2" textLength="114.74" lengthAdjust="spacingAndGlyphs" transform="rotate(-90 330.8 405.4)"><tspan font-style="italic">BCL2L1</tspan> expression log2 (RPKM)</text>
<line x1="353.6" y1="419.2" x2="504.4" y2="419.2" stroke="#1c1c1c" stroke-width="1.5"/>
<line x1="372.9" y1="419.2" x2="372.9" y2="423.2" stroke="#1c1c1c" stroke-width="1.1"/>
<line x1="401.2" y1="419.2" x2="401.2" y2="423.2" stroke="#1c1c1c" stroke-width="1.1"/>
<line x1="429.6" y1="419.2" x2="429.6" y2="423.2" stroke="#1c1c1c" stroke-width="1.1"/>
<line x1="457.4" y1="419.2" x2="457.4" y2="423.2" stroke="#1c1c1c" stroke-width="1.1"/>
<line x1="486.1" y1="419.2" x2="486.1" y2="423.2" stroke="#1c1c1c" stroke-width="1.1"/>
<path d="M373.25,325.8 C373.35,326.08 373.67,327 373.85,327.5 C374.03,328 374.22,328 374.35,328.8 C374.48,329.6 374.67,331.18 374.65,332.3 C374.63,333.42 374.41,334.63 374.25,335.5 C374.09,336.37 373.77,336.58 373.7,337.5 C373.63,338.42 373.67,340.17 373.85,341 C374.02,341.83 374.52,341.58 374.75,342.5 C374.98,343.42 375.27,345.17 375.25,346.5 C375.23,347.83 374.9,349.5 374.65,350.5 C374.4,351.5 373.88,351.75 373.75,352.5 C373.62,353.25 373.75,354.33 373.85,355 C373.95,355.67 374.22,355.67 374.35,356.5 C374.48,357.33 374.67,358.83 374.65,360 C374.63,361.17 374.4,362.63 374.25,363.5 C374.1,364.37 373.82,364.75 373.75,365.2 C373.68,365.65 373.67,365.53 373.85,366.2 C374.03,366.87 374.18,368.28 374.85,369.2 C375.52,370.12 376.98,370.87 377.85,371.7 C378.72,372.53 379.63,373.28 380.05,374.2 C380.47,375.12 380.15,376.18 380.35,377.2 C380.55,378.22 381.3,379.37 381.25,380.3 C381.2,381.23 380.92,382.08 380.05,382.8 C379.18,383.52 377.1,384.1 376.05,384.6 C375,385.1 374,385.4 373.75,385.8 C373.5,386.2 374.32,386.38 374.55,387 C374.78,387.62 375.15,388.67 375.15,389.5 C375.15,390.33 374.72,391.38 374.55,392 C374.38,392.62 374.27,392.38 374.15,393.2 C374.03,394.02 373.95,395.77 373.85,396.9 C373.75,398.03 373.65,398.57 373.55,400 C373.45,401.43 373.3,404.58 373.25,405.5 L372.55,405.5 C372.5,404.58 372.35,401.43 372.25,400 C372.15,398.57 372.05,398.03 371.95,396.9 C371.85,395.77 371.77,394.02 371.65,393.2 C371.53,392.38 371.42,392.62 371.25,392 C371.08,391.38 370.65,390.33 370.65,389.5 C370.65,388.67 371.02,387.62 371.25,387 C371.48,386.38 372.3,386.2 372.05,385.8 C371.8,385.4 370.8,385.1 369.75,384.6 C368.7,384.1 366.62,383.52 365.75,382.8 C364.88,382.08 364.6,381.23 364.55,380.3 C364.5,379.37 365.25,378.22 365.45,377.2 C365.65,376.18 365.33,375.12 365.75,374.2 C366.17,373.28 367.08,372.53 367.95,371.7 C368.82,370.87 370.28,370.12 370.95,369.2 C371.62,368.28 371.77,366.87 371.95,366.2 C372.13,365.53 372.12,365.65 372.05,365.2 C371.98,364.75 371.7,364.37 371.55,363.5 C371.4,362.63 371.17,361.17 371.15,360 C371.13,358.83 371.32,357.33 371.45,356.5 C371.58,355.67 371.85,355.67 371.95,355 C372.05,354.33 372.18,353.25 372.05,352.5 C371.92,351.75 371.4,351.5 371.15,350.5 C370.9,349.5 370.57,347.83 370.55,346.5 C370.53,345.17 370.82,343.42 371.05,342.5 C371.28,341.58 371.77,341.83 371.95,341 C372.12,340.17 372.17,338.42 372.1,337.5 C372.03,336.58 371.71,336.37 371.55,335.5 C371.39,334.63 371.17,333.42 371.15,332.3 C371.13,331.18 371.32,329.6 371.45,328.8 C371.58,328 371.77,328 371.95,327.5 C372.13,327 372.45,326.08 372.55,325.8 Z" fill="#F49C9A" stroke="#B0103A" stroke-width="1.1" stroke-linejoin="round"/>
<path d="M401.55,338 C401.58,338.33 401.63,339.08 401.75,340 C401.87,340.92 402.07,342.25 402.25,343.5 C402.43,344.75 402.87,346.25 402.85,347.5 C402.83,348.75 402.34,350.08 402.15,351 C401.96,351.92 401.77,351.17 401.7,353 C401.62,354.83 401.66,360.05 401.7,362 C401.74,363.95 401.69,363.48 401.95,364.7 C402.21,365.92 402.72,367.78 403.25,369.3 C403.78,370.82 404.55,372.5 405.15,373.8 C405.75,375.1 406.35,375.9 406.85,377.1 C407.35,378.3 407.88,379.82 408.15,381 C408.42,382.18 408.45,383.12 408.45,384.2 C408.45,385.28 408.05,386.3 408.15,387.5 C408.25,388.7 409.22,390.32 409.05,391.4 C408.88,392.48 408.02,393.13 407.15,394 C406.28,394.87 404.73,395.73 403.85,396.6 C402.97,397.47 402.22,398.47 401.85,399.2 C401.48,399.93 401.7,400.03 401.65,401 C401.6,401.97 401.57,404.33 401.55,405 L400.85,405 C400.83,404.33 400.8,401.97 400.75,401 C400.7,400.03 400.92,399.93 400.55,399.2 C400.18,398.47 399.43,397.47 398.55,396.6 C397.67,395.73 396.12,394.87 395.25,394 C394.38,393.13 393.52,392.48 393.35,391.4 C393.18,390.32 394.15,388.7 394.25,387.5 C394.35,386.3 393.95,385.28 393.95,384.2 C393.95,383.12 393.98,382.18 394.25,381 C394.52,379.82 395.05,378.3 395.55,377.1 C396.05,375.9 396.65,375.1 397.25,373.8 C397.85,372.5 398.62,370.82 399.15,369.3 C399.68,367.78 400.19,365.92 400.45,364.7 C400.71,363.48 400.66,363.95 400.7,362 C400.74,360.05 400.77,354.83 400.7,353 C400.62,351.17 400.44,351.92 400.25,351 C400.06,350.08 399.57,348.75 399.55,347.5 C399.53,346.25 399.97,344.75 400.15,343.5 C400.33,342.25 400.53,340.92 400.65,340 C400.77,339.08 400.82,338.33 400.85,338 Z" fill="#9AAEDB" stroke="#1B3A6B" stroke-width="1.1" stroke-linejoin="round"/>
<path d="M429.95,334.2 C429.98,334.58 430.07,335.78 430.15,336.5 C430.23,337.22 430.38,337.85 430.45,338.5 C430.52,339.15 430.58,339.73 430.55,340.4 C430.52,341.07 430.33,341.82 430.25,342.5 C430.17,343.18 430.08,342.25 430.05,344.5 C430.02,346.75 429.95,353.83 430.05,356 C430.15,358.17 430.47,356.73 430.65,357.5 C430.83,358.27 431.13,359.6 431.15,360.6 C431.17,361.6 430.92,362.67 430.75,363.5 C430.58,364.33 430.13,364.78 430.15,365.6 C430.17,366.42 430.5,367.47 430.85,368.4 C431.2,369.33 431.72,370.02 432.25,371.2 C432.78,372.38 433.47,374.2 434.05,375.5 C434.63,376.8 435.23,378 435.75,379 C436.27,380 437.08,380.67 437.15,381.5 C437.22,382.33 436.67,382.88 436.15,384 C435.63,385.12 434.7,386.78 434.05,388.2 C433.4,389.62 432.78,391.08 432.25,392.5 C431.72,393.92 431.22,395.28 430.85,396.7 C430.48,398.12 430.2,399.82 430.05,401 C429.9,402.18 429.97,403.33 429.95,403.8 L429.25,403.8 C429.23,403.33 429.3,402.18 429.15,401 C429,399.82 428.72,398.12 428.35,396.7 C427.98,395.28 427.48,393.92 426.95,392.5 C426.42,391.08 425.8,389.62 425.15,388.2 C424.5,386.78 423.57,385.12 423.05,384 C422.53,382.88 421.98,382.33 422.05,381.5 C422.12,380.67 422.93,380 423.45,379 C423.97,378 424.57,376.8 425.15,375.5 C425.73,374.2 426.42,372.38 426.95,371.2 C427.48,370.02 428,369.33 428.35,368.4 C428.7,367.47 429.03,366.42 429.05,365.6 C429.07,364.78 428.62,364.33 428.45,363.5 C428.28,362.67 428.03,361.6 428.05,360.6 C428.07,359.6 428.37,358.27 428.55,357.5 C428.73,356.73 429.05,358.17 429.15,356 C429.25,353.83 429.18,346.75 429.15,344.5 C429.12,342.25 429.03,343.18 428.95,342.5 C428.87,341.82 428.68,341.07 428.65,340.4 C428.62,339.73 428.68,339.15 428.75,338.5 C428.82,337.85 428.97,337.22 429.05,336.5 C429.13,335.78 429.22,334.58 429.25,334.2 Z" fill="#B2DFAA" stroke="#3A9E48" stroke-width="1.1" stroke-linejoin="round"/>
<path d="M457.85,312.4 C457.87,312.83 457.88,314.05 457.95,315 C458.02,315.95 458.25,317.1 458.25,318.1 C458.25,319.1 458.01,317.85 457.95,321 C457.89,324.15 457.82,333.77 457.9,337 C457.98,340.23 458.44,339.32 458.45,340.4 C458.46,341.48 458.05,341.07 457.95,343.5 C457.85,345.93 457.83,352.32 457.85,355 C457.88,357.68 457.9,358.07 458.1,359.6 C458.3,361.13 458.69,362.67 459.05,364.2 C459.41,365.73 459.8,367.27 460.25,368.8 C460.7,370.33 461.18,372.12 461.75,373.4 C462.32,374.68 463.32,375.47 463.7,376.5 C464.08,377.53 464.18,378.58 464.05,379.6 C463.93,380.62 463.2,381.72 462.95,382.6 C462.7,383.48 462.23,384 462.55,384.9 C462.87,385.8 464.33,386.97 464.85,388 C465.37,389.03 465.78,390.08 465.65,391.1 C465.52,392.12 464.82,393.08 464.05,394.1 C463.28,395.12 462.03,396.17 461.05,397.2 C460.07,398.23 458.68,399.5 458.15,400.3 C457.62,401.1 457.9,399.45 457.85,402 C457.8,404.55 457.85,413.33 457.85,415.6 L457.15,415.6 C457.15,413.33 457.2,404.55 457.15,402 C457.1,399.45 457.38,401.1 456.85,400.3 C456.32,399.5 454.93,398.23 453.95,397.2 C452.97,396.17 451.72,395.12 450.95,394.1 C450.18,393.08 449.48,392.12 449.35,391.1 C449.22,390.08 449.63,389.03 450.15,388 C450.67,386.97 452.13,385.8 452.45,384.9 C452.77,384 452.3,383.48 452.05,382.6 C451.8,381.72 451.07,380.62 450.95,379.6 C450.82,378.58 450.92,377.53 451.3,376.5 C451.68,375.47 452.68,374.68 453.25,373.4 C453.82,372.12 454.3,370.33 454.75,368.8 C455.2,367.27 455.59,365.73 455.95,364.2 C456.31,362.67 456.7,361.13 456.9,359.6 C457.1,358.07 457.12,357.68 457.15,355 C457.17,352.32 457.15,345.93 457.05,343.5 C456.95,341.07 456.54,341.48 456.55,340.4 C456.56,339.32 457.02,340.23 457.1,337 C457.18,333.77 457.11,324.15 457.05,321 C456.99,317.85 456.75,319.1 456.75,318.1 C456.75,317.1 456.98,315.95 457.05,315 C457.12,314.05 457.13,312.83 457.15,312.4 Z" fill="#A98AC6" stroke="#4A2063" stroke-width="1.1" stroke-linejoin="round"/>
<path d="M486.45,292 C486.52,292.5 486.73,293.83 486.85,295 C486.97,296.17 487.15,297.83 487.15,299 C487.15,300.17 486.9,296.17 486.85,302 C486.8,307.83 486.78,328.17 486.85,334 C486.92,339.83 487.25,336 487.25,337 C487.25,338 486.88,336.33 486.85,340 C486.82,343.67 486.98,355.5 487.05,359 C487.12,362.5 487.25,360 487.25,361 C487.25,362 487.05,363.53 487.05,365 C487.05,366.47 487.12,368.6 487.25,369.8 C487.38,371 487.43,371.38 487.85,372.2 C488.27,373.02 489.23,373.87 489.75,374.7 C490.27,375.53 490.7,376.18 490.95,377.2 C491.2,378.22 491.2,379.67 491.25,380.8 C491.3,381.93 490.88,383.17 491.25,384 C491.62,384.83 492.88,385.1 493.45,385.8 C494.02,386.5 494.6,387.38 494.65,388.2 C494.7,389.02 494.37,389.87 493.75,390.7 C493.13,391.53 491.93,392.38 490.95,393.2 C489.97,394.02 488.5,394.78 487.85,395.6 C487.2,396.42 487.28,397.17 487.05,398.1 C486.82,399.03 486.55,400.68 486.45,401.2 L485.75,401.2 C485.65,400.68 485.38,399.03 485.15,398.1 C484.92,397.17 485,396.42 484.35,395.6 C483.7,394.78 482.23,394.02 481.25,393.2 C480.27,392.38 479.07,391.53 478.45,390.7 C477.83,389.87 477.5,389.02 477.55,388.2 C477.6,387.38 478.18,386.5 478.75,385.8 C479.32,385.1 480.58,384.83 480.95,384 C481.32,383.17 480.9,381.93 480.95,380.8 C481,379.67 481,378.22 481.25,377.2 C481.5,376.18 481.93,375.53 482.45,374.7 C482.97,373.87 483.93,373.02 484.35,372.2 C484.77,371.38 484.82,371 484.95,369.8 C485.08,368.6 485.15,366.47 485.15,365 C485.15,363.53 484.95,362 484.95,361 C484.95,360 485.08,362.5 485.15,359 C485.22,355.5 485.38,343.67 485.35,340 C485.32,336.33 484.95,338 484.95,337 C484.95,336 485.28,339.83 485.35,334 C485.42,328.17 485.4,307.83 485.35,302 C485.3,296.17 485.05,300.17 485.05,299 C485.05,297.83 485.23,296.17 485.35,295 C485.47,293.83 485.68,292.5 485.75,292 Z" fill="#FBD49A" stroke="#E89A2C" stroke-width="1.1" stroke-linejoin="round"/>
<line x1="372.9" y1="372" x2="372.9" y2="382.5" stroke="#4a4a4a" stroke-width="0.7" stroke-dasharray="1.2,0.8"/>
<line x1="366.4" y1="374.5" x2="379.4" y2="374.5" stroke="#4a4a4a" stroke-width="0.6" stroke-dasharray="1,1"/>
<line x1="365.4" y1="380.5" x2="380.4" y2="380.5" stroke="#4a4a4a" stroke-width="0.6" stroke-dasharray="1,1"/>
<line x1="401.2" y1="372" x2="401.2" y2="393" stroke="#4a4a4a" stroke-width="0.7" stroke-dasharray="1.2,0.8"/>
<line x1="396" y1="377.5" x2="406.4" y2="377.5" stroke="#4a4a4a" stroke-width="0.6" stroke-dasharray="1,1"/>
<line x1="394.2" y1="391.4" x2="408.2" y2="391.4" stroke="#4a4a4a" stroke-width="0.6" stroke-dasharray="1,1"/>
<line x1="429.6" y1="368" x2="429.6" y2="396" stroke="#4a4a4a" stroke-width="0.7" stroke-dasharray="1.2,0.8"/>
<line x1="425.6" y1="375.5" x2="433.6" y2="375.5" stroke="#4a4a4a" stroke-width="0.6" stroke-dasharray="1,1"/>
<line x1="424.6" y1="386.5" x2="434.6" y2="386.5" stroke="#4a4a4a" stroke-width="0.6" stroke-dasharray="1,1"/>
<line x1="457.4" y1="366" x2="457.4" y2="396" stroke="#4a4a4a" stroke-width="0.7" stroke-dasharray="1.2,0.8"/>
<line x1="451.9" y1="376.5" x2="462.9" y2="376.5" stroke="#4a4a4a" stroke-width="0.6" stroke-dasharray="1,1"/>
<line x1="450.2" y1="391" x2="464.6" y2="391" stroke="#4a4a4a" stroke-width="0.6" stroke-dasharray="1,1"/>
<line x1="486.1" y1="377" x2="486.1" y2="393" stroke="#4a4a4a" stroke-width="0.7" stroke-dasharray="1.2,0.8"/>
<line x1="481.6" y1="381" x2="490.6" y2="381" stroke="#4a4a4a" stroke-width="0.6" stroke-dasharray="1,1"/>
<line x1="478.6" y1="388.2" x2="493.6" y2="388.2" stroke="#4a4a4a" stroke-width="0.6" stroke-dasharray="1,1"/>
<line x1="372.9" y1="372" x2="372.9" y2="382.5" stroke="#6E7A5E" stroke-width="1.4"/>
<line x1="366" y1="377.4" x2="380.3" y2="377.4" stroke="#111" stroke-width="1.3"/>
<line x1="394.1" y1="384.2" x2="408.4" y2="384.2" stroke="#111" stroke-width="1.3"/>
<line x1="421.6" y1="381.1" x2="437.5" y2="381.1" stroke="#111" stroke-width="1.3"/>
<line x1="451.5" y1="384" x2="463.8" y2="384" stroke="#111" stroke-width="1.3"/>
<line x1="479.6" y1="384.5" x2="492.6" y2="384.5" stroke="#111" stroke-width="1.3"/>
<path d="M372.9,319.7 V299.2 H457.4 V306.1" fill="none" stroke="#222" stroke-width="1.3"/>
<circle cx="413.3" cy="295" r="1.3" fill="#222"/>
<circle cx="417.2" cy="295" r="1.3" fill="#222"/>
<text x="319.25" y="430.1" font-size="7.9" fill="#333" stroke="#333" stroke-width="0.22" textLength="56.8" lengthAdjust="spacingAndGlyphs" transform="rotate(-45 375.8 430.1)">post-MPN AML</text>
<text x="326.75" y="429.4" font-size="7.9" fill="#333" stroke="#333" stroke-width="0.22" textLength="77.8" lengthAdjust="spacingAndGlyphs" transform="rotate(-45 404.3 429.4)">post-MDS/MPN AML</text>
<text x="376.56" y="428.2" font-size="7.9" fill="#333" stroke="#333" stroke-width="0.22" textLength="56.29" lengthAdjust="spacingAndGlyphs" transform="rotate(-45 432.6 428.2)">post-MDS AML</text>
<text x="411.36" y="428.4" font-size="7.9" fill="#333" stroke="#333" stroke-width="0.22" textLength="50.12" lengthAdjust="spacingAndGlyphs" transform="rotate(-45 461.2 428.4)">de novo AML</text>
<text x="417.17" y="428.7" font-size="7.9" fill="#333" stroke="#333" stroke-width="0.22" textLength="75.88" lengthAdjust="spacingAndGlyphs" transform="rotate(-45 492.8 428.7)">therapy-related AML</text>
<text x="8.27" y="511.7" font-size="15" font-weight="bold" fill="#000" textLength="9.56" lengthAdjust="spacingAndGlyphs">E</text>
<text x="8.54" y="696.7" font-size="15" font-weight="bold" fill="#000" textLength="8.98" lengthAdjust="spacingAndGlyphs">F</text>
<line x1="66.1" y1="520.4" x2="66.1" y2="621.2" stroke="#1c1c1c" stroke-width="1.5"/>
<line x1="65.5" y1="620.7" x2="211.6" y2="620.7" stroke="#1c1c1c" stroke-width="1.5"/>
<line x1="62.1" y1="620.6" x2="66.1" y2="620.6" stroke="#1c1c1c" stroke-width="1"/>
<text x="53.44" y="623.4" font-size="8.2" fill="#262626" stroke="#262626" stroke-width="0.22" textLength="4.56" lengthAdjust="spacingAndGlyphs">0</text>
<line x1="62.1" y1="596.4" x2="66.1" y2="596.4" stroke="#1c1c1c" stroke-width="1"/>
<text x="37.2" y="599" font-size="7.9" fill="#262626" stroke="#262626" stroke-width="0.2" textLength="17.89" lengthAdjust="spacingAndGlyphs">1×10</text>
<text x="55.21" y="596.1" font-size="3.9" fill="#777" textLength="3.23" lengthAdjust="spacingAndGlyphs">6</text>
<line x1="62.1" y1="572.3" x2="66.1" y2="572.3" stroke="#1c1c1c" stroke-width="1"/>
<text x="37.41" y="574.9" font-size="7.9" fill="#262626" stroke="#262626" stroke-width="0.2" textLength="17.69" lengthAdjust="spacingAndGlyphs">2×10</text>
<text x="55.21" y="572" font-size="3.9" fill="#777" textLength="3.23" lengthAdjust="spacingAndGlyphs">6</text>
<line x1="62.1" y1="547.8" x2="66.1" y2="547.8" stroke="#1c1c1c" stroke-width="1"/>
<text x="37.49" y="550.4" font-size="7.9" fill="#262626" stroke="#262626" stroke-width="0.2" textLength="17.61" lengthAdjust="spacingAndGlyphs">3×10</text>
<text x="55.21" y="547.5" font-size="3.9" fill="#777" textLength="3.23" lengthAdjust="spacingAndGlyphs">6</text>
<line x1="62.1" y1="523.4" x2="66.1" y2="523.4" stroke="#1c1c1c" stroke-width="1"/>
<text x="37.65" y="526" font-size="7.9" fill="#262626" stroke="#262626" stroke-width="0.2" textLength="17.45" lengthAdjust="spacingAndGlyphs">4×10</text>
<text x="55.21" y="523.1" font-size="3.9" fill="#777" textLength="3.23" lengthAdjust="spacingAndGlyphs">6</text>
<line x1="84.5" y1="620.7" x2="84.5" y2="624.2" stroke="#1c1c1c" stroke-width="1"/>
<text x="82.04" y="634.8" font-size="8.8" fill="#262626" stroke="#262626" stroke-width="0.22" textLength="4.89" lengthAdjust="spacingAndGlyphs">0</text>
<line x1="111.9" y1="620.7" x2="111.9" y2="624.2" stroke="#1c1c1c" stroke-width="1"/>
<text x="106.93" y="634.8" font-size="8.8" fill="#262626" stroke="#262626" stroke-width="0.22" textLength="9.79" lengthAdjust="spacingAndGlyphs">24</text>
<line x1="139.3" y1="620.7" x2="139.3" y2="624.2" stroke="#1c1c1c" stroke-width="1"/>
<text x="134.5" y="634.8" font-size="8.8" fill="#262626" stroke="#262626" stroke-width="0.22" textLength="9.79" lengthAdjust="spacingAndGlyphs">48</text>
<line x1="166.7" y1="620.7" x2="166.7" y2="624.2" stroke="#1c1c1c" stroke-width="1"/>
<text x="161.82" y="634.8" font-size="8.8" fill="#262626" stroke="#262626" stroke-width="0.22" textLength="9.79" lengthAdjust="spacingAndGlyphs">72</text>
<line x1="194.1" y1="620.7" x2="194.1" y2="624.2" stroke="#1c1c1c" stroke-width="1"/>
<text x="189.19" y="634.8" font-size="8.8" fill="#262626" stroke="#262626" stroke-width="0.22" textLength="9.79" lengthAdjust="spacingAndGlyphs">96</text>
<text x="115.23" y="646.8" font-size="10.2" fill="#333" stroke="#333" stroke-width="0.25" textLength="48.09" lengthAdjust="spacingAndGlyphs">Time (hours)</text>
<text x="30.55" y="607.9" font-size="10.2" fill="#333" stroke="#333" stroke-width="0.2" textLength="76.87" lengthAdjust="spacingAndGlyphs" transform="rotate(-90 31.2 607.9)">Luminescence (RLU)</text>
<text x="126.66" y="513.1" font-size="10.6" fill="#333" stroke="#333" stroke-width="0.3" textLength="24.65" lengthAdjust="spacingAndGlyphs">SET2</text>
<polyline points="84.5,612.6 111.9,602.9 139.3,597.7 166.7,582.1 194.1,550.6" fill="none" stroke="#30333C" stroke-width="1.5" stroke-linejoin="round"/>
<circle cx="84.5" cy="612.6" r="2" fill="#30333C"/>
<circle cx="111.9" cy="602.9" r="2" fill="#30333C"/>
<circle cx="139.3" cy="597.7" r="2" fill="#30333C"/>
<circle cx="166.7" cy="582.1" r="2" fill="#30333C"/>
<rect x="192.1" y="548.8" width="4" height="3.6" fill="#30333C"/>
<polyline points="84.5,616.2 111.9,617.8 139.3,618.2 166.7,618.6 194.1,617.2" fill="none" stroke="#D3126C" stroke-width="1.7" stroke-linejoin="round"/>
<circle cx="84.5" cy="616.2" r="2" fill="#D3126C"/>
<circle cx="111.9" cy="617.8" r="2" fill="#D3126C"/>
<circle cx="139.3" cy="618.2" r="2" fill="#D3126C"/>
<circle cx="166.7" cy="618.6" r="2" fill="#D3126C"/>
<circle cx="194.1" cy="617.2" r="2" fill="#D3126C"/>
<line x1="90.6" y1="530.3" x2="102.1" y2="530.3" stroke="#30333C" stroke-width="1.2"/>
<circle cx="96.3" cy="530.3" r="1.9" fill="#30333C"/>
<text x="104.16" y="533" font-size="7.8" fill="#333" stroke="#333" stroke-width="0.22" textLength="28.34" lengthAdjust="spacingAndGlyphs">Control</text>
<line x1="90.6" y1="542.4" x2="102.1" y2="542.4" stroke="#D3126C" stroke-width="1.5"/>
<circle cx="96.3" cy="542.4" r="1.9" fill="#D3126C"/>
<text x="104.36" y="545.1" font-size="7.8" fill="#333" stroke="#333" stroke-width="0.22" textLength="42.31" lengthAdjust="spacingAndGlyphs"><tspan font-style="italic">BCL2L1</tspan> KO</text>
<line x1="282.7" y1="520.4" x2="282.7" y2="621.3" stroke="#1c1c1c" stroke-width="1.5"/>
<line x1="282.1" y1="620.8" x2="428.2" y2="620.8" stroke="#1c1c1c" stroke-width="1.5"/>
<line x1="278.7" y1="620.6" x2="282.7" y2="620.6" stroke="#1c1c1c" stroke-width="1"/>
<text x="269.64" y="623.4" font-size="8.2" fill="#262626" stroke="#262626" stroke-width="0.22" textLength="4.56" lengthAdjust="spacingAndGlyphs">0</text>
<line x1="278.7" y1="596.4" x2="282.7" y2="596.4" stroke="#1c1c1c" stroke-width="1"/>
<text x="246.6" y="599" font-size="7.9" fill="#262626" stroke="#262626" stroke-width="0.2" textLength="24.69" lengthAdjust="spacingAndGlyphs">1.5×10</text>
<text x="271.41" y="596.1" font-size="3.9" fill="#777" textLength="3.23" lengthAdjust="spacingAndGlyphs">6</text>
<line x1="278.7" y1="572.3" x2="282.7" y2="572.3" stroke="#1c1c1c" stroke-width="1"/>
<text x="246.88" y="574.9" font-size="7.9" fill="#262626" stroke="#262626" stroke-width="0.2" textLength="24.4" lengthAdjust="spacingAndGlyphs">3.0×10</text>
<text x="271.41" y="572" font-size="3.9" fill="#777" textLength="3.23" lengthAdjust="spacingAndGlyphs">6</text>
<line x1="278.7" y1="547.6" x2="282.7" y2="547.6" stroke="#1c1c1c" stroke-width="1"/>
<text x="247.04" y="550.2" font-size="7.9" fill="#262626" stroke="#262626" stroke-width="0.2" textLength="24.24" lengthAdjust="spacingAndGlyphs">4.5×10</text>
<text x="271.41" y="547.3" font-size="3.9" fill="#777" textLength="3.23" lengthAdjust="spacingAndGlyphs">6</text>
<line x1="278.7" y1="523.1" x2="282.7" y2="523.1" stroke="#1c1c1c" stroke-width="1"/>
<text x="246.8" y="525.7" font-size="7.9" fill="#262626" stroke="#262626" stroke-width="0.2" textLength="24.49" lengthAdjust="spacingAndGlyphs">6.0×10</text>
<text x="271.41" y="522.8" font-size="3.9" fill="#777" textLength="3.23" lengthAdjust="spacingAndGlyphs">6</text>
<line x1="301.1" y1="620.8" x2="301.1" y2="624.3" stroke="#1c1c1c" stroke-width="1"/>
<text x="298.64" y="634.8" font-size="8.8" fill="#262626" stroke="#262626" stroke-width="0.22" textLength="4.89" lengthAdjust="spacingAndGlyphs">0</text>
<line x1="328.5" y1="620.8" x2="328.5" y2="624.3" stroke="#1c1c1c" stroke-width="1"/>
<text x="323.53" y="634.8" font-size="8.8" fill="#262626" stroke="#262626" stroke-width="0.22" textLength="9.79" lengthAdjust="spacingAndGlyphs">24</text>
<line x1="355.9" y1="620.8" x2="355.9" y2="624.3" stroke="#1c1c1c" stroke-width="1"/>
<text x="351.1" y="634.8" font-size="8.8" fill="#262626" stroke="#262626" stroke-width="0.22" textLength="9.79" lengthAdjust="spacingAndGlyphs">48</text>
<line x1="383.3" y1="620.8" x2="383.3" y2="624.3" stroke="#1c1c1c" stroke-width="1"/>
<text x="378.42" y="634.8" font-size="8.8" fill="#262626" stroke="#262626" stroke-width="0.22" textLength="9.79" lengthAdjust="spacingAndGlyphs">72</text>
<line x1="410.7" y1="620.8" x2="410.7" y2="624.3" stroke="#1c1c1c" stroke-width="1"/>
<text x="405.79" y="634.8" font-size="8.8" fill="#262626" stroke="#262626" stroke-width="0.22" textLength="9.79" lengthAdjust="spacingAndGlyphs">96</text>
<text x="331.13" y="646.8" font-size="10.2" fill="#333" stroke="#333" stroke-width="0.25" textLength="48.9" lengthAdjust="spacingAndGlyphs">Time (hours)</text>
<text x="239.65" y="607.4" font-size="10.2" fill="#333" stroke="#333" stroke-width="0.2" textLength="76.16" lengthAdjust="spacingAndGlyphs" transform="rotate(-90 240.3 607.4)">Luminescence (RLU)</text>
<text x="345.4" y="513.1" font-size="10.6" fill="#333" stroke="#333" stroke-width="0.3" textLength="19.51" lengthAdjust="spacingAndGlyphs">HEL</text>
<polyline points="301.1,617.5 328.5,608.7 355.9,603.2 383.3,581.2 410.7,543.3" fill="none" stroke="#30333C" stroke-width="1.5" stroke-linejoin="round"/>
<circle cx="301.1" cy="617.5" r="2" fill="#30333C"/>
<circle cx="328.5" cy="608.7" r="2" fill="#30333C"/>
<circle cx="355.9" cy="603.2" r="2" fill="#30333C"/>
<circle cx="383.3" cy="581.2" r="2" fill="#30333C"/>
<rect x="408.7" y="541.5" width="4" height="3.6" fill="#30333C"/>
<polyline points="301.1,620 328.5,620 355.9,620 383.3,620 410.7,620" fill="none" stroke="#D3126C" stroke-width="1.7" stroke-linejoin="round"/>
<circle cx="301.1" cy="620" r="2" fill="#D3126C"/>
<circle cx="328.5" cy="620" r="2" fill="#D3126C"/>
<circle cx="355.9" cy="620" r="2" fill="#D3126C"/>
<circle cx="383.3" cy="620" r="2" fill="#D3126C"/>
<circle cx="410.7" cy="620" r="2" fill="#D3126C"/>
<line x1="305.9" y1="529.3" x2="317.4" y2="529.3" stroke="#30333C" stroke-width="1.2"/>
<circle cx="311.6" cy="529.3" r="1.9" fill="#30333C"/>
<text x="319.45" y="532" font-size="7.8" fill="#333" stroke="#333" stroke-width="0.22" textLength="29.07" lengthAdjust="spacingAndGlyphs">Control</text>
<line x1="305.9" y1="541.7" x2="317.4" y2="541.7" stroke="#D3126C" stroke-width="1.5"/>
<circle cx="311.6" cy="541.7" r="1.9" fill="#D3126C"/>
<text x="319.66" y="544.4" font-size="7.8" fill="#333" stroke="#333" stroke-width="0.22" textLength="43.22" lengthAdjust="spacingAndGlyphs"><tspan font-style="italic">BCL2L1</tspan> KO</text>
<line x1="66.1" y1="705.4" x2="66.1" y2="806.3" stroke="#1c1c1c" stroke-width="1.5"/>
<line x1="65.5" y1="805.8" x2="211.6" y2="805.8" stroke="#1c1c1c" stroke-width="1.5"/>
<line x1="62.1" y1="805.6" x2="66.1" y2="805.6" stroke="#1c1c1c" stroke-width="1"/>
<text x="53.44" y="808.4" font-size="8.2" fill="#262626" stroke="#262626" stroke-width="0.22" textLength="4.56" lengthAdjust="spacingAndGlyphs">0</text>
<line x1="62.1" y1="781.4" x2="66.1" y2="781.4" stroke="#1c1c1c" stroke-width="1"/>
<text x="37.2" y="784" font-size="7.9" fill="#262626" stroke="#262626" stroke-width="0.2" textLength="17.89" lengthAdjust="spacingAndGlyphs">1×10</text>
<text x="55.21" y="781.1" font-size="3.9" fill="#777" textLength="3.23" lengthAdjust="spacingAndGlyphs">6</text>
<line x1="62.1" y1="757.3" x2="66.1" y2="757.3" stroke="#1c1c1c" stroke-width="1"/>
<text x="37.41" y="759.9" font-size="7.9" fill="#262626" stroke="#262626" stroke-width="0.2" textLength="17.69" lengthAdjust="spacingAndGlyphs">2×10</text>
<text x="55.21" y="757" font-size="3.9" fill="#777" textLength="3.23" lengthAdjust="spacingAndGlyphs">6</text>
<line x1="62.1" y1="732.8" x2="66.1" y2="732.8" stroke="#1c1c1c" stroke-width="1"/>
<text x="37.49" y="735.4" font-size="7.9" fill="#262626" stroke="#262626" stroke-width="0.2" textLength="17.61" lengthAdjust="spacingAndGlyphs">3×10</text>
<text x="55.21" y="732.5" font-size="3.9" fill="#777" textLength="3.23" lengthAdjust="spacingAndGlyphs">6</text>
<line x1="62.1" y1="708.4" x2="66.1" y2="708.4" stroke="#1c1c1c" stroke-width="1"/>
<text x="37.65" y="711" font-size="7.9" fill="#262626" stroke="#262626" stroke-width="0.2" textLength="17.45" lengthAdjust="spacingAndGlyphs">4×10</text>
<text x="55.21" y="708.1" font-size="3.9" fill="#777" textLength="3.23" lengthAdjust="spacingAndGlyphs">6</text>
<line x1="84.5" y1="805.8" x2="84.5" y2="809.3" stroke="#1c1c1c" stroke-width="1"/>
<text x="82.04" y="820.5" font-size="8.8" fill="#262626" stroke="#262626" stroke-width="0.22" textLength="4.89" lengthAdjust="spacingAndGlyphs">0</text>
<line x1="111.9" y1="805.8" x2="111.9" y2="809.3" stroke="#1c1c1c" stroke-width="1"/>
<text x="106.93" y="820.5" font-size="8.8" fill="#262626" stroke="#262626" stroke-width="0.22" textLength="9.79" lengthAdjust="spacingAndGlyphs">24</text>
<line x1="139.3" y1="805.8" x2="139.3" y2="809.3" stroke="#1c1c1c" stroke-width="1"/>
<text x="134.5" y="820.5" font-size="8.8" fill="#262626" stroke="#262626" stroke-width="0.22" textLength="9.79" lengthAdjust="spacingAndGlyphs">48</text>
<line x1="166.7" y1="805.8" x2="166.7" y2="809.3" stroke="#1c1c1c" stroke-width="1"/>
<text x="161.82" y="820.5" font-size="8.8" fill="#262626" stroke="#262626" stroke-width="0.22" textLength="9.79" lengthAdjust="spacingAndGlyphs">72</text>
<line x1="194.1" y1="805.8" x2="194.1" y2="809.3" stroke="#1c1c1c" stroke-width="1"/>
<text x="189.19" y="820.5" font-size="8.8" fill="#262626" stroke="#262626" stroke-width="0.22" textLength="9.79" lengthAdjust="spacingAndGlyphs">96</text>
<text x="114.83" y="835.5" font-size="10.2" fill="#333" stroke="#333" stroke-width="0.25" textLength="48.7" lengthAdjust="spacingAndGlyphs">Time (hours)</text>
<text x="30.55" y="792.9" font-size="10.2" fill="#333" stroke="#333" stroke-width="0.2" textLength="76.87" lengthAdjust="spacingAndGlyphs" transform="rotate(-90 31.2 792.9)">Luminescence (RLU)</text>
<text x="126" y="698.1" font-size="10.6" fill="#333" stroke="#333" stroke-width="0.3" textLength="25.25" lengthAdjust="spacingAndGlyphs">THP1</text>
<polyline points="84.5,798.6 111.9,791.4 139.3,789.4 166.7,774.8 194.1,743" fill="none" stroke="#30333C" stroke-width="1.5" stroke-linejoin="round"/>
<circle cx="84.5" cy="798.6" r="2" fill="#30333C"/>
<circle cx="111.9" cy="791.4" r="2" fill="#30333C"/>
<circle cx="139.3" cy="789.4" r="2" fill="#30333C"/>
<circle cx="166.7" cy="774.8" r="2" fill="#30333C"/>
<rect x="192.1" y="741.2" width="4" height="3.6" fill="#30333C"/>
<polyline points="84.5,799.2 111.9,792 139.3,790 166.7,775.4 194.1,743.8" fill="none" stroke="#D3126C" stroke-width="1.7" stroke-linejoin="round"/>
<circle cx="84.5" cy="799.2" r="2" fill="#D3126C"/>
<circle cx="111.9" cy="792" r="2" fill="#D3126C"/>
<circle cx="139.3" cy="790" r="2" fill="#D3126C"/>
<circle cx="166.7" cy="775.4" r="2" fill="#D3126C"/>
<circle cx="194.1" cy="743.8" r="2" fill="#D3126C"/>
<line x1="89.6" y1="714.9" x2="101.1" y2="714.9" stroke="#30333C" stroke-width="1.2"/>
<circle cx="95.3" cy="714.9" r="1.9" fill="#30333C"/>
<text x="103.15" y="717.6" font-size="7.8" fill="#333" stroke="#333" stroke-width="0.22" textLength="28.97" lengthAdjust="spacingAndGlyphs">Control</text>
<line x1="89.6" y1="726.9" x2="101.1" y2="726.9" stroke="#D3126C" stroke-width="1.5"/>
<circle cx="95.3" cy="726.9" r="1.9" fill="#D3126C"/>
<text x="103.36" y="729.6" font-size="7.8" fill="#333" stroke="#333" stroke-width="0.22" textLength="42.41" lengthAdjust="spacingAndGlyphs"><tspan font-style="italic">BCL2L1</tspan> KO</text>
<line x1="282.7" y1="705.4" x2="282.7" y2="806.4" stroke="#1c1c1c" stroke-width="1.5"/>
<line x1="282.1" y1="805.9" x2="428.2" y2="805.9" stroke="#1c1c1c" stroke-width="1.5"/>
<line x1="278.7" y1="805.6" x2="282.7" y2="805.6" stroke="#1c1c1c" stroke-width="1"/>
<text x="269.64" y="808.4" font-size="8.2" fill="#262626" stroke="#262626" stroke-width="0.22" textLength="4.56" lengthAdjust="spacingAndGlyphs">0</text>
<line x1="278.7" y1="781.4" x2="282.7" y2="781.4" stroke="#1c1c1c" stroke-width="1"/>
<text x="253.4" y="784" font-size="7.9" fill="#262626" stroke="#262626" stroke-width="0.2" textLength="17.89" lengthAdjust="spacingAndGlyphs">1×10</text>
<text x="271.41" y="781.1" font-size="3.9" fill="#777" textLength="3.23" lengthAdjust="spacingAndGlyphs">6</text>
<line x1="278.7" y1="757.3" x2="282.7" y2="757.3" stroke="#1c1c1c" stroke-width="1"/>
<text x="253.61" y="759.9" font-size="7.9" fill="#262626" stroke="#262626" stroke-width="0.2" textLength="17.69" lengthAdjust="spacingAndGlyphs">2×10</text>
<text x="271.41" y="757" font-size="3.9" fill="#777" textLength="3.23" lengthAdjust="spacingAndGlyphs">6</text>
<line x1="278.7" y1="732.8" x2="282.7" y2="732.8" stroke="#1c1c1c" stroke-width="1"/>
<text x="253.69" y="735.4" font-size="7.9" fill="#262626" stroke="#262626" stroke-width="0.2" textLength="17.61" lengthAdjust="spacingAndGlyphs">3×10</text>
<text x="271.41" y="732.5" font-size="3.9" fill="#777" textLength="3.23" lengthAdjust="spacingAndGlyphs">6</text>
<line x1="278.7" y1="708.4" x2="282.7" y2="708.4" stroke="#1c1c1c" stroke-width="1"/>
<text x="253.85" y="711" font-size="7.9" fill="#262626" stroke="#262626" stroke-width="0.2" textLength="17.45" lengthAdjust="spacingAndGlyphs">4×10</text>
<text x="271.41" y="708.1" font-size="3.9" fill="#777" textLength="3.23" lengthAdjust="spacingAndGlyphs">6</text>
<line x1="301.1" y1="805.9" x2="301.1" y2="809.4" stroke="#1c1c1c" stroke-width="1"/>
<text x="298.64" y="820.5" font-size="8.8" fill="#262626" stroke="#262626" stroke-width="0.22" textLength="4.89" lengthAdjust="spacingAndGlyphs">0</text>
<line x1="328.5" y1="805.9" x2="328.5" y2="809.4" stroke="#1c1c1c" stroke-width="1"/>
<text x="323.53" y="820.5" font-size="8.8" fill="#262626" stroke="#262626" stroke-width="0.22" textLength="9.79" lengthAdjust="spacingAndGlyphs">24</text>
<line x1="355.9" y1="805.9" x2="355.9" y2="809.4" stroke="#1c1c1c" stroke-width="1"/>
<text x="351.1" y="820.5" font-size="8.8" fill="#262626" stroke="#262626" stroke-width="0.22" textLength="9.79" lengthAdjust="spacingAndGlyphs">48</text>
<line x1="383.3" y1="805.9" x2="383.3" y2="809.4" stroke="#1c1c1c" stroke-width="1"/>
<text x="378.42" y="820.5" font-size="8.8" fill="#262626" stroke="#262626" stroke-width="0.22" textLength="9.79" lengthAdjust="spacingAndGlyphs">72</text>
<line x1="410.7" y1="805.9" x2="410.7" y2="809.4" stroke="#1c1c1c" stroke-width="1"/>
<text x="405.79" y="820.5" font-size="8.8" fill="#262626" stroke="#262626" stroke-width="0.22" textLength="9.79" lengthAdjust="spacingAndGlyphs">96</text>
<text x="331.13" y="835.5" font-size="10.2" fill="#333" stroke="#333" stroke-width="0.25" textLength="48.9" lengthAdjust="spacingAndGlyphs">Time (hours)</text>
<text x="247.45" y="792.4" font-size="10.2" fill="#333" stroke="#333" stroke-width="0.2" textLength="76.36" lengthAdjust="spacingAndGlyphs" transform="rotate(-90 248.1 792.4)">Luminescence (RLU)</text>
<text x="328.99" y="698.2" font-size="10.6" fill="#333" stroke="#333" stroke-width="0.3" textLength="53.4" lengthAdjust="spacingAndGlyphs">OCI-AML3</text>
<polyline points="301.1,800.5 328.5,792 355.9,784.6 383.3,767.9 410.7,759.1" fill="none" stroke="#30333C" stroke-width="1.5" stroke-linejoin="round"/>
<circle cx="301.1" cy="800.5" r="2" fill="#30333C"/>
<circle cx="328.5" cy="792" r="2" fill="#30333C"/>
<circle cx="355.9" cy="784.6" r="2" fill="#30333C"/>
<circle cx="383.3" cy="767.9" r="2" fill="#30333C"/>
<rect x="408.7" y="757.3" width="4" height="3.6" fill="#30333C"/>
<polyline points="301.1,802.3 328.5,795.4 355.9,789.2 383.3,770.3 410.7,764.5" fill="none" stroke="#D3126C" stroke-width="1.7" stroke-linejoin="round"/>
<circle cx="301.1" cy="802.3" r="2" fill="#D3126C"/>
<circle cx="328.5" cy="795.4" r="2" fill="#D3126C"/>
<circle cx="355.9" cy="789.2" r="2" fill="#D3126C"/>
<circle cx="383.3" cy="770.3" r="2" fill="#D3126C"/>
<circle cx="410.7" cy="764.5" r="2" fill="#D3126C"/>
<line x1="306.5" y1="714.7" x2="318" y2="714.7" stroke="#30333C" stroke-width="1.2"/>
<circle cx="312.2" cy="714.7" r="1.9" fill="#30333C"/>
<text x="320.06" y="717.4" font-size="7.8" fill="#333" stroke="#333" stroke-width="0.22" textLength="28.55" lengthAdjust="spacingAndGlyphs">Control</text>
<line x1="306.5" y1="727.6" x2="318" y2="727.6" stroke="#D3126C" stroke-width="1.5"/>
<circle cx="312.2" cy="727.6" r="1.9" fill="#D3126C"/>
<text x="320.26" y="730.3" font-size="7.8" fill="#333" stroke="#333" stroke-width="0.22" textLength="42.41" lengthAdjust="spacingAndGlyphs"><tspan font-style="italic">BCL2L1</tspan> KO</text>
<rect x="0.5" y="0.5" width="519" height="846" fill="none" stroke="#262626" stroke-width="1.2"/>
</svg>
</body></html>
